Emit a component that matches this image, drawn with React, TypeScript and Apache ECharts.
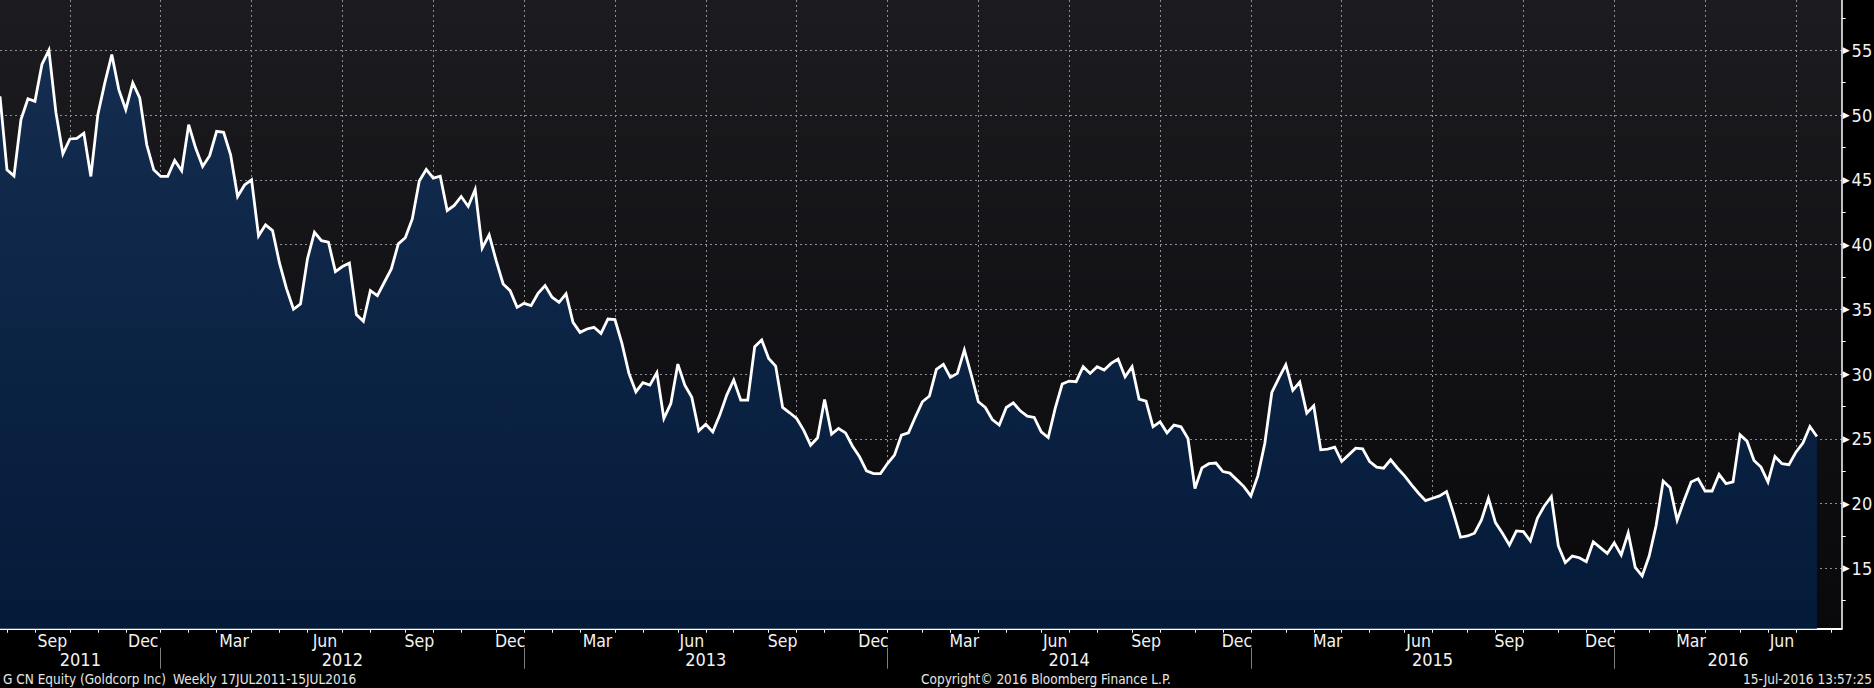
import React, { useEffect, useRef } from "react";
import * as echarts from "echarts";

// Weekly closes of G CN Equity, first point Fri 22 Jul 2011, one per week
const FIRST_WEEK = Date.UTC(2011, 6, 22);
const WEEK_MS = 7 * 24 * 3600 * 1000;

const weeklyClose = [
  51.44, 45.77, 45.3, 49.64, 51.26, 51.06, 53.9, 55.0, 50.2, 47.0,
  48.15, 48.2, 48.6, 45.26, 50.03, 52.48, 54.67, 51.96, 50.41, 52.48,
  51.32, 47.7, 45.77, 45.26, 45.26, 46.5, 45.7, 49.25, 47.45, 46.03,
  46.86, 48.74, 48.66, 46.93, 43.71, 44.6, 45.0, 40.67, 41.52, 41.08,
  38.56, 36.6, 35.0, 35.41, 38.9, 40.95, 40.3, 40.18, 37.91, 38.3,
  38.56, 34.59, 34.07, 36.44, 36.06, 37.09, 38.12, 40.05, 40.52, 41.98,
  44.9, 45.8, 45.13, 45.28, 42.63, 43.02, 43.71, 42.94, 44.25, 39.72,
  40.75, 38.76, 36.96, 36.44, 35.15, 35.46, 35.28, 36.24, 36.83, 35.93,
  35.54, 36.19, 33.99, 33.22, 33.48, 33.61, 33.14, 34.25, 34.2, 32.37,
  30.05, 28.63, 29.33, 29.15, 30.1, 26.57, 27.73, 30.77, 29.15, 28.2,
  25.62, 26.13, 25.54, 26.83, 28.38, 29.54, 27.99, 27.99, 32.11, 32.63,
  31.21, 30.62, 27.42, 27.01, 26.57, 25.67, 24.51, 25.08, 28.04, 25.36,
  25.8, 25.46, 24.43, 23.61, 22.53, 22.32, 22.32, 23.09, 23.74, 25.28,
  25.46, 26.7, 27.86, 28.3, 30.36, 30.75, 29.74, 30.05, 31.86, 29.92,
  27.86, 27.42, 26.49, 26.06, 27.42, 27.78, 27.16, 26.75, 26.65, 25.54,
  25.1, 27.35, 29.23, 29.46, 29.41, 30.57, 30.05, 30.57, 30.31, 30.82,
  31.16, 29.79, 30.57, 28.07, 27.91, 25.93, 26.31, 25.46, 26.06, 25.93,
  25.03, 21.16, 22.76, 23.08, 23.13, 22.47, 22.35, 21.83, 21.31, 20.59,
  22.14, 24.66, 28.58, 29.69, 30.72, 28.74, 29.38, 26.98, 27.55, 24.15,
  24.2, 24.36, 23.25, 23.76, 24.28, 24.23, 23.25, 22.81, 22.73, 23.38,
  22.73, 22.14, 21.44, 20.8, 20.23, 20.41, 20.59, 20.93, 19.25, 17.4,
  17.5, 17.71, 18.74, 20.41, 18.53, 17.71, 16.8, 17.89, 17.84, 17.11,
  18.87, 19.82, 20.54, 16.73, 15.44, 15.95, 15.82, 15.51, 17.05, 16.6,
  16.15, 16.97, 16.03, 17.74, 15.08, 14.41, 15.95, 18.33, 21.74, 21.23,
  18.72, 20.26, 21.67, 21.92, 20.97, 20.97, 22.26, 21.54, 21.67, 25.31,
  24.82, 23.33, 22.82, 21.67, 23.64, 23.08, 23.0, 23.97, 24.67, 25.95,
  25.18,
];

const monthNames = ["Jan", "Feb", "Mar", "Apr", "May", "Jun", "Jul", "Aug", "Sep", "Oct", "Nov", "Dec"];
const labelledMonths = [2, 5, 8, 11];
const gridMonths = [0, 3, 6, 9];
const years = [2011, 2012, 2013, 2014, 2015, 2016];
const yLabelValues = [15, 20, 25, 30, 35, 40, 45, 50, 55];
const yMinorValues = [12.5, 17.5, 22.5, 27.5, 32.5, 37.5, 42.5, 47.5, 52.5, 57.5];
const Y_MIN = 10.34;
const Y_MAX = 58.88;
const X_MAX = 263.55; // axis extends a few weeks beyond the last point

const footerLeft = "G CN Equity (Goldcorp Inc)";
const footerRange = "Weekly 17JUL2011-15JUL2016";
const footerCopy = "Copyright\u00A9 2016 Bloomberg Finance L.P.";
const footerStamp = "15-Jul-2016 13:57:25";

const FONT = '"DejaVu Sans Condensed", "Liberation Sans Narrow", "DejaVu Sans", sans-serif';

// index (in weeks) of the last weekly point before the 1st of a month
function boundary(y: number, m: number) {
  return Math.ceil((Date.UTC(y, m, 1) - FIRST_WEEK) / WEEK_MS) - 1;
}
const key = (v: number) => Math.round(v * 1000);

function buildAxes() {
  const monthTicks: number[] = [];
  const quarterTicks: number[] = [];
  const monthLabelPos: number[] = [];
  const monthLabelMap = new Map<number, string>();
  for (let y = 2011; y <= 2016; y++) {
    for (let m = 0; m < 12; m++) {
      const b = boundary(y, m);
      if (b >= 0 && b <= X_MAX) {
        monthTicks.push(b);
        if (gridMonths.includes(m)) quarterTicks.push(b);
      }
      if (labelledMonths.includes(m)) {
        const c = (b + boundary(y, m + 1)) / 2;
        if (b >= 0 && boundary(y, m + 1) <= X_MAX) {
          monthLabelPos.push(c);
          monthLabelMap.set(key(c), monthNames[m]);
        }
      }
    }
  }
  const yearTicks: number[] = [];
  const yearLabelPos: number[] = [];
  const yearLabelMap = new Map<number, string>();
  years.forEach((y) => {
    const s = Math.max(0, boundary(y, 0));
    const e = Math.min(X_MAX, boundary(y + 1, 0));
    if (boundary(y, 0) > 0) yearTicks.push(boundary(y, 0));
    const c = (s + e) / 2;
    yearLabelPos.push(c);
    yearLabelMap.set(key(c), String(y));
  });
  return { monthTicks, quarterTicks, monthLabelPos, monthLabelMap, yearTicks, yearLabelPos, yearLabelMap };
}

export default function App() {
  const ref = useRef<HTMLDivElement>(null);
  useEffect(() => {
    document.body.style.margin = "0";
    document.body.style.background = "#000";
    if (!ref.current) return;
    const chart = echarts.init(ref.current, undefined, { renderer: "svg" });
    const ax = buildAxes();
    const gridLine = { show: true, lineStyle: { color: "#8f8f8f", type: [2, 3] as any, width: 1 } };

    chart.setOption({
      animation: false,
      backgroundColor: "#000",
      grid: {
        left: 0,
        top: 0,
        right: 32.3,
        bottom: 59.3,
        containLabel: false,
        outerBoundsMode: "none",
        show: true,
        borderWidth: 0,
        backgroundColor: new echarts.graphic.LinearGradient(0, 0, 0, 1, [
          { offset: 0, color: "#1c1c20" },
          { offset: 1, color: "#09090c" },
        ]),
      },
      xAxis: [
        {
          type: "value",
          min: 0,
          max: X_MAX,
          position: "bottom",
          axisLine: { show: true, onZero: false, lineStyle: { color: "#ffffff", width: 2 } },
          axisTick: { show: false, customValues: ax.quarterTicks },
          axisLabel: { show: false },
          splitLine: gridLine,
        },
        {
          type: "value",
          min: 0,
          max: X_MAX,
          position: "bottom",
          axisLine: { show: false, onZero: false },
          axisTick: { show: true, customValues: ax.monthTicks, length: 4, lineStyle: { color: "#ffffff", width: 1 } },
          axisLabel: {
            show: true,
            customValues: ax.monthLabelPos,
            formatter: (v: number) => ax.monthLabelMap.get(key(v)) || "",
            color: "#f2f2f2",
            fontSize: 17.5,
            fontFamily: FONT,
            margin: 3,
          },
          splitLine: { show: false },
        },
        {
          type: "value",
          min: 0,
          max: X_MAX,
          position: "bottom",
          offset: 19,
          axisLine: { show: false, onZero: false },
          axisTick: { show: true, customValues: ax.yearTicks, length: 21, lineStyle: { color: "#7f7f7f", width: 1 } },
          axisLabel: {
            show: true,
            customValues: ax.yearLabelPos,
            formatter: (v: number) => ax.yearLabelMap.get(key(v)) || "",
            color: "#f2f2f2",
            fontSize: 18,
            fontFamily: FONT,
            margin: 3,
          },
          splitLine: { show: false },
        },
      ],
      yAxis: [
        {
          type: "value",
          min: Y_MIN,
          max: Y_MAX,
          position: "right",
          axisLine: { show: true, onZero: false, lineStyle: { color: "#ffffff", width: 1.5 } },
          axisTick: { show: false, customValues: yLabelValues },
          axisLabel: {
            show: true,
            customValues: yLabelValues,
            margin: 1,
            formatter: (v: number) => `{a|\u25B6}{n|${v}}`,
            rich: {
              a: { fontSize: 9, color: "#ffffff", fontFamily: "DejaVu Sans", padding: [0, 2, 0, 0] },
              n: { fontSize: 18, color: "#f2f2f2", fontFamily: FONT },
            },
          },
          splitLine: gridLine,
        },
        {
          type: "value",
          min: Y_MIN,
          max: Y_MAX,
          position: "right",
          axisLine: { show: false, onZero: false },
          axisTick: { show: true, customValues: yMinorValues, length: 4, lineStyle: { color: "#ffffff", width: 1 } },
          axisLabel: { show: false },
          splitLine: { show: false },
        },
      ],
      series: [
        {
          type: "line",
          xAxisIndex: 0,
          yAxisIndex: 0,
          data: weeklyClose.map((v, i) => [i, v]),
          symbol: "none",
          silent: true,
          lineStyle: { color: "#ffffff", width: 2.8, join: "miter" },
          areaStyle: {
            origin: "start",
            opacity: 1,
            color: new echarts.graphic.LinearGradient(0, 0, 0, 1, [
              { offset: 0, color: "#142d50" },
              { offset: 1, color: "#041a39" },
            ]),
          },
        },
      ],
      graphic: [
        { type: "text", x: 3, y: 679, silent: true, style: { text: footerLeft, fill: "#e6e6e6", fontSize: 13.5, fontFamily: FONT, align: "left", verticalAlign: "middle" } },
        { type: "text", x: 173, y: 679, silent: true, style: { text: footerRange, fill: "#e6e6e6", fontSize: 13.5, fontFamily: FONT, align: "left", verticalAlign: "middle" } },
        { type: "text", x: 1046, y: 679, silent: true, style: { text: footerCopy, fill: "#e6e6e6", fontSize: 13.5, fontFamily: FONT, align: "center", verticalAlign: "middle" } },
        { type: "text", x: 1872, y: 679, silent: true, style: { text: footerStamp, fill: "#e6e6e6", fontSize: 13.5, fontFamily: FONT, align: "right", verticalAlign: "middle" } },
      ],
    });
    return () => chart.dispose();
  }, []);
  return <div ref={ref} style={{ width: 1874, height: 688, background: "#000" }} />;
}
